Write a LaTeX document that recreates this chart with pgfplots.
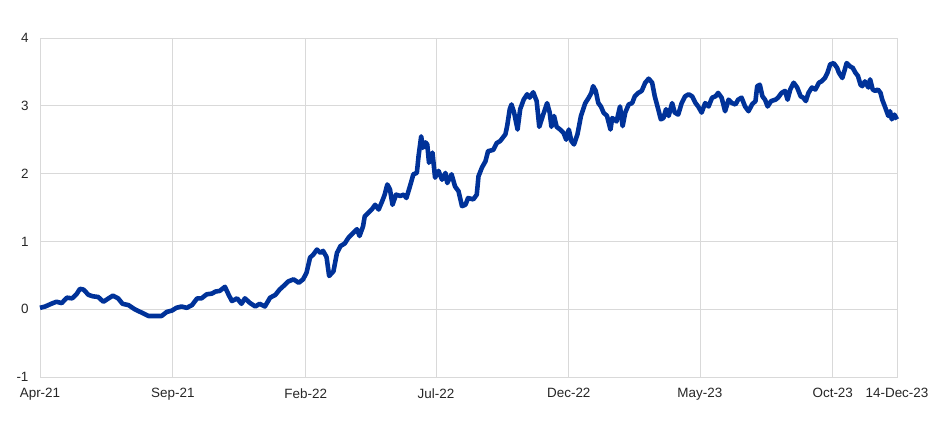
\documentclass[border=0pt]{standalone}
\usepackage{pgfplots}
\pgfplotsset{compat=1.18}
\usepackage{fontspec}
\setmainfont{Liberation Sans}
\definecolor{ecbblue}{HTML}{003299}
\definecolor{gridgray}{HTML}{D9D9D9}
\begin{document}
\begin{tikzpicture}
\useasboundingbox (-40bp,-53bp) rectangle (905bp,377bp);
\begin{axis}[
    scale only axis,
    width=857bp, height=339bp,
    xmin=0, xmax=987,
    ymin=-1, ymax=4,
    xtick={0,153,306,456,609,760,913,987},
    xticklabels={Apr-21,Sep-21,Feb-22,Jul-22,Dec-22,May-23,Oct-23,14-Dec-23},
    ytick={-1,0,1,2,3,4},
    yticklabels={-1,0,1,2,3,4},
    major tick length=0pt,
    grid=major,
    grid style={gridgray, line width=0.8pt},
    axis line style={gridgray, line width=0.8pt},
    tick label style={font=\fontsize{13.5}{15}\selectfont, text=black!85},
    xticklabel style={yshift=-8bp},
    yticklabel style={xshift=-8bp},
    clip=false,
]
% days since 1 April 2021
\addplot[ecbblue, line width=4.6pt, line join=round] coordinates {
(0,0.02) (6,0.04) (13,0.08) (19,0.11) (25,0.09) (31,0.17) (37,0.16) (42,0.22)
(46,0.30) (50,0.29) (56,0.21) (61,0.19) (67,0.18) (73,0.11) (79,0.16) (84,0.20)
(90,0.16) (95,0.08) (102,0.06) (109,0.00) (117,-0.05) (125,-0.10) (132,-0.10)
(140,-0.10) (146,-0.04) (152,-0.02) (157,0.02) (163,0.04) (169,0.02) (175,0.06)
(181,0.16) (186,0.16) (192,0.22) (198,0.23) (202,0.26) (207,0.27) (213,0.33)
(217,0.22) (221,0.12) (227,0.16) (232,0.08) (236,0.16) (242,0.09) (248,0.04)
(253,0.08) (259,0.04) (265,0.17) (271,0.21) (276,0.29) (282,0.36) (286,0.41)
(292,0.44) (298,0.39) (303,0.44) (307,0.54) (311,0.76) (315,0.81) (319,0.88)
(323,0.83) (326,0.86) (330,0.77) (333,0.49) (338,0.56) (342,0.83) (346,0.93)
(351,0.97) (355,1.05) (361,1.13) (365,1.18) (368,1.08) (372,1.22) (374,1.37)
(378,1.42) (382,1.47) (386,1.54) (390,1.47) (394,1.59) (397,1.69) (400,1.84)
(403,1.77) (406,1.54) (410,1.69) (415,1.67) (419,1.69) (422,1.64) (426,1.81)
(430,1.99) (434,2.01) (436,2.26) (439,2.55) (441,2.38) (444,2.46) (446,2.43)
(448,2.16) (452,2.31) (455,1.94) (459,2.04) (463,1.91) (467,2.01) (469,1.86)
(474,1.99) (478,1.81) (482,1.74) (486,1.52) (490,1.54) (493,1.64) (499,1.62)
(503,1.69) (505,1.96) (509,2.09) (513,2.18) (516,2.33) (522,2.35) (526,2.45)
(530,2.48) (536,2.58) (538,2.70) (541,2.95) (543,3.02) (546,2.90) (550,2.65)
(553,2.95) (557,3.09) (561,3.17) (564,3.12) (568,3.20) (572,3.07) (575,2.69)
(579,2.85) (584,3.04) (587,2.90) (589,2.69) (592,2.85) (595,2.69) (599,2.65)
(603,2.60) (606,2.50) (609,2.65) (612,2.48) (615,2.43) (619,2.58) (623,2.85)
(628,3.04) (632,3.12) (635,3.19) (637,3.29) (640,3.22) (643,3.04) (646,2.99)
(649,2.90) (653,2.85) (657,2.65) (659,2.82) (664,2.77) (668,2.99) (671,2.70)
(674,2.90) (678,3.02) (682,3.04) (685,3.14) (689,3.19) (693,3.22) (697,3.34)
(701,3.40) (705,3.34) (708,3.14) (712,2.95) (715,2.80) (718,2.82) (721,2.95)
(724,2.85) (728,3.04) (731,2.90) (735,2.87) (739,3.04) (743,3.14) (747,3.17)
(751,3.14) (755,3.04) (758,2.99) (762,2.90) (766,3.04) (770,2.99) (774,3.12)
(778,3.14) (781,3.19) (785,3.12) (789,2.92) (793,3.09) (797,3.04) (801,3.02)
(804,3.09) (808,3.12) (812,2.99) (816,2.92) (820,3.02) (824,3.07) (826,3.29)
(829,3.31) (832,3.14) (835,3.09) (838,2.99) (842,3.07) (847,3.09) (850,3.12)
(854,3.19) (858,3.22) (861,3.09) (864,3.24) (868,3.34) (872,3.27) (876,3.14)
(879,3.12) (882,3.07) (885,3.19) (889,3.27) (893,3.24) (897,3.34) (900,3.36)
(904,3.41) (907,3.49) (910,3.61) (914,3.63) (918,3.56) (920,3.49) (924,3.41)
(927,3.54) (929,3.63) (933,3.58) (936,3.56) (939,3.49) (942,3.44) (945,3.31)
(947,3.29) (950,3.36) (954,3.27) (956,3.39) (959,3.24) (962,3.22) (965,3.24)
(968,3.19) (970,3.09) (973,2.99) (977,2.85) (979,2.92) (981,2.80) (984,2.87)
(987,2.80)
};
\end{axis}
\end{tikzpicture}
\end{document}
